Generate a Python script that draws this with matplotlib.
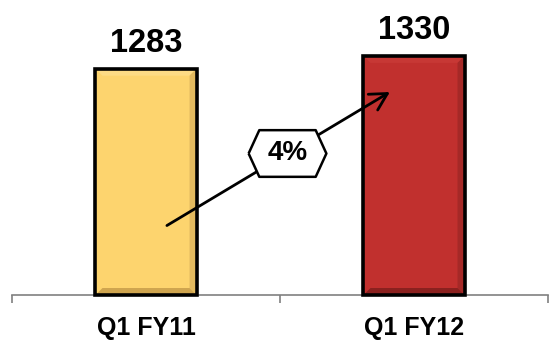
import matplotlib
matplotlib.use('Agg')
import matplotlib.pyplot as plt
from matplotlib.patches import Polygon

# --- Data ---
categories = ['Q1 FY11', 'Q1 FY12']
revenue = [1283, 1330]
growth_label = '4%'

bar_colors = ['#FDD46E', '#C1302E']
bevel_light = ['#FEDE8C', '#C93B38']
bevel_dark = ['#DDB45C', '#9E2826']
bevel_darker = ['#C49A48', '#7E1E1C']

plt.rcParams['font.family'] = ['Liberation Sans', 'DejaVu Sans']

fig = plt.figure(figsize=(5.5, 3.4), dpi=100)
ax = fig.add_axes([12 / 550, 45 / 340, 536 / 550, 275 / 340])

y0 = 450
ax.set_xlim(-0.5, 1.5)
ax.set_ylim(y0, 1462)

x = list(range(len(categories)))
width = 0.377
bars = ax.bar(x, [v - y0 for v in revenue], bottom=y0, width=width,
              color=bar_colors, edgecolor='none', zorder=2)

# bevel size in data units (about 7 px)
inv = ax.transData.inverted()
p0 = inv.transform((0, 0))
p1 = inv.transform((7, 7))
bx, by = p1[0] - p0[0], p1[1] - p0[1]

for i, b in enumerate(bars):
    L, R = b.get_x(), b.get_x() + b.get_width()
    B, T = y0, revenue[i]
    sides = [
        ([(L, T), (R, T), (R - bx, T - by), (L + bx, T - by)], bevel_light[i]),
        ([(R, T), (R, B), (R - bx, B + by), (R - bx, T - by)], bevel_dark[i]),
        ([(L, B), (R, B), (R - bx, B + by), (L + bx, B + by)], bevel_darker[i]),
    ]
    for verts, c in sides:
        ax.add_patch(Polygon(verts, closed=True, facecolor=c, edgecolor='none',
                             alpha=0.8, zorder=3))
    ax.add_patch(plt.Rectangle((L, B), R - L, T - B, facecolor='none',
                               edgecolor='black', lw=2.6, zorder=4, clip_on=False))
    ax.annotate(f'{revenue[i]}', xy=(i, revenue[i]), xytext=(0, 12),
                textcoords='offset points', ha='center', va='baseline',
                fontsize=23.5, fontweight='bold', color='black')

# growth arrow between the two bars
start = (0.078, 0.55 * revenue[0])
end = (0.91, 0.9 * revenue[1])
ax.annotate('', xy=end, xytext=start, zorder=5,
            arrowprops=dict(arrowstyle='->,head_length=0.55,head_width=0.3',
                            lw=2, color='black', mutation_scale=22,
                            shrinkA=0, shrinkB=0))

t = 0.54
mx = start[0] + t * (end[0] - start[0])
my = start[1] + t * (end[1] - start[1])
hexagon = [(-40, 0), (-29, 24), (29, 24), (40, 0), (29, -24), (-29, -24), (-40, 0)]
ax.plot(mx, my, marker=hexagon, markersize=56, markerfacecolor='white',
        markeredgecolor='black', markeredgewidth=1.8, zorder=6)
ax.text(mx, my, growth_label, ha='center', va='center', fontsize=20,
        fontweight='bold', zorder=7)

# axis styling
for s in ['top', 'left', 'right']:
    ax.spines[s].set_visible(False)
ax.spines['bottom'].set_color('#808080')
ax.spines['bottom'].set_linewidth(1.2)
ax.set_yticks([])
ax.set_xticks(x)
ax.set_xticklabels(categories, fontsize=18, fontweight='bold')
ax.tick_params(axis='x', which='major', length=0, pad=15)
ax.set_xticks([-0.5, 0.5, 1.5], minor=True)
ax.tick_params(axis='x', which='minor', length=6, width=1.2, color='#808080',
               direction='out')

fig.savefig('out.png', dpi=100)
